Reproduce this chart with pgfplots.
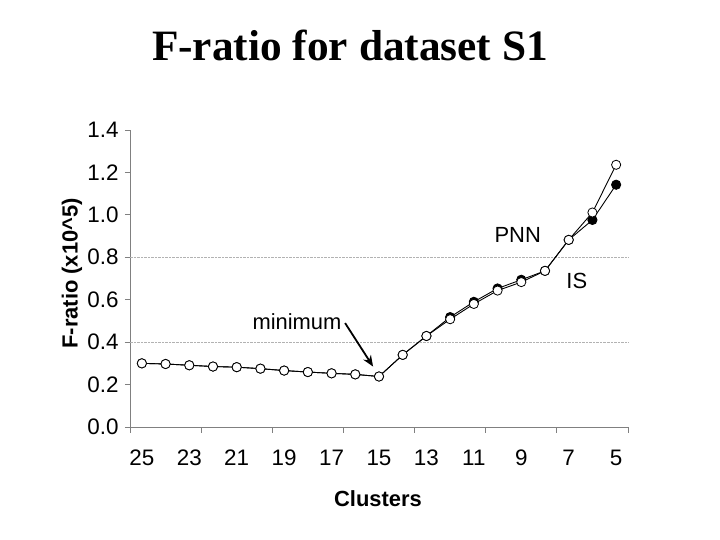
\documentclass[border=0pt]{standalone}
\usepackage{pgfplots}
\pgfplotsset{compat=1.18}
\usetikzlibrary{arrows.meta}
\usepackage{fontspec}
\setmainfont{Liberation Sans}
\newfontfamily\titlefont{Liberation Serif}
\pgfplotstableread{
c open filled
25 0.300 0.300
24 0.297 0.297
23 0.291 0.291
22 0.285 0.285
21 0.282 0.282
20 0.275 0.275
19 0.266 0.266
18 0.259 0.259
17 0.253 0.253
16 0.248 0.248
15 0.238 0.238
14 0.340 0.340
13 0.429 0.429
12 0.508 0.518
11 0.580 0.590
10 0.643 0.653
9 0.683 0.694
8 0.736 0.736
7 0.882 0.882
6 1.011 0.976
5 1.236 1.142
}\datatable
\begin{document}
\begin{tikzpicture}[x=1bp,y=1bp]
\path[use as bounding box] (0,0) rectangle (720,540);
\node[font=\titlefont\bfseries\fontsize{43.5}{48}\selectfont] at (350,495) {F-ratio for dataset S1};
\begin{axis}[
  at={(130bp,113bp)}, anchor=south west,
  scale only axis, width=498bp, height=297bp,
  x dir=reverse,
  xmin=4.5, xmax=25.5, ymin=0, ymax=1.4,
  axis x line=bottom, axis y line=left,
  axis line style={draw=gray, line width=0.9pt, -},
  xtick={25,23,21,19,17,15,13,11,9,7,5},
  xticklabels={25,23,21,19,17,15,13,11,9,7,5},
  xtick style={draw=none},
  extra x ticks={25.5,22.5,19.5,16.5,13.5,10.5,7.5,4.5},
  extra x tick labels={},
  extra x tick style={xtick style={draw=gray, line width=0.8pt}, major tick length=6bp},
  ytick={0,0.2,...,1.4},
  y tick label style={/pgf/number format/fixed, /pgf/number format/fixed zerofill, /pgf/number format/precision=1},
  ytick style={draw=gray, line width=0.8pt},
  tick align=outside, major tick length=5bp,
  extra y ticks={0.4,0.8},
  extra y tick labels={},
  extra y tick style={grid=major, major grid style={gray!60, densely dotted, line width=0.7pt}},
  /pgf/number format/assume math mode=true,
  tick label style={font=\fontsize{22.5}{24}\selectfont},
  xticklabel style={anchor=north, text height=15.7bp, text depth=0bp, yshift=-14bp},
  yticklabel style={xshift=-3bp},
  xlabel={Clusters},
  ylabel={F-ratio (x10\^{}5)},
  every axis x label/.style={at={(axis description cs:0.498,-0.241)}, anchor=center, font=\fontsize{22}{24}\selectfont\bfseries},
  every axis y label/.style={at={(axis description cs:-0.1165,0.517)}, rotate=90, anchor=center, font=\fontsize{22}{24}\selectfont\bfseries},
  clip=false,
]
\addplot[black, line width=0.9pt, mark=*, mark size=4.6bp, mark options={fill=black, draw=black}] table[x=c, y=filled] {\datatable};
\addplot[black, line width=0.9pt, mark=*, mark size=4.6bp, mark options={fill=white, draw=black, line width=0.8pt}] table[x=c, y=open] {\datatable};
\node[font=\fontsize{22}{24}\selectfont] at (axis cs:18.46,0.497) {minimum};
\draw[-{Stealth[length=11bp,width=9bp]}, line width=1.8pt] (axis cs:16.43,0.49) -- (axis cs:15.25,0.285);
\node[font=\fontsize{22}{24}\selectfont] at (axis cs:9.15,0.905) {PNN};
\node[font=\fontsize{22}{24}\selectfont] at (axis cs:6.66,0.689) {IS};
\end{axis}
\end{tikzpicture}
\end{document}
